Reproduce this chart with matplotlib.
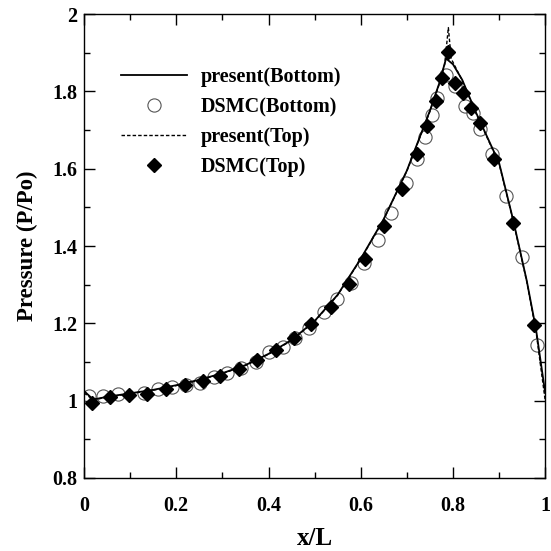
import matplotlib
matplotlib.use("Agg")
import matplotlib.pyplot as plt
from matplotlib.ticker import MultipleLocator

# present solution, bottom wall
x_bot = [0.0, 0.02, 0.05, 0.1, 0.15, 0.2, 0.25, 0.3, 0.35, 0.4, 0.45, 0.5,
         0.55, 0.6, 0.65, 0.7, 0.75, 0.77, 0.785, 0.8, 0.82, 0.85, 0.9,
         0.93, 0.96, 0.98, 1.0]
p_bot = [1.025, 1.003, 1.01, 1.019, 1.028, 1.04, 1.054, 1.071, 1.092, 1.121,
         1.157, 1.206, 1.274, 1.367, 1.47, 1.595, 1.75, 1.82, 1.885, 1.87,
         1.83, 1.745, 1.615, 1.47, 1.31, 1.185, 1.02]

# present solution, top wall
x_top = [0.0, 0.02, 0.05, 0.1, 0.15, 0.2, 0.25, 0.3, 0.35, 0.4, 0.45, 0.5,
         0.55, 0.6, 0.65, 0.7, 0.75, 0.77, 0.782, 0.79, 0.796, 0.82, 0.85,
         0.9, 0.93, 0.96, 0.98, 1.0]
p_top = [1.02, 1.002, 1.009, 1.018, 1.027, 1.039, 1.053, 1.07, 1.091, 1.12,
         1.156, 1.205, 1.273, 1.366, 1.469, 1.594, 1.748, 1.818, 1.87, 1.965,
         1.885, 1.828, 1.743, 1.613, 1.468, 1.308, 1.18, 1.0]

# DSMC, bottom wall
x_dsmc_bot = [0.011, 0.042, 0.074, 0.131, 0.16, 0.19, 0.221, 0.252, 0.282,
              0.311, 0.34, 0.372, 0.402, 0.431, 0.458, 0.487, 0.52, 0.548,
              0.579, 0.606, 0.637, 0.666, 0.699, 0.721, 0.739, 0.754, 0.766,
              0.785, 0.805, 0.827, 0.843, 0.859, 0.885, 0.916, 0.95, 0.983]
p_dsmc_bot = [1.011, 1.011, 1.017, 1.019, 1.029, 1.036, 1.041, 1.045, 1.06,
              1.072, 1.084, 1.101, 1.127, 1.14, 1.161, 1.187, 1.229, 1.262,
              1.305, 1.357, 1.416, 1.485, 1.562, 1.626, 1.683, 1.74, 1.783,
              1.842, 1.814, 1.763, 1.743, 1.702, 1.639, 1.529, 1.371, 1.144]

# DSMC, top wall
x_dsmc_top = [0.017, 0.056, 0.098, 0.136, 0.177, 0.218, 0.257, 0.295, 0.336,
              0.375, 0.416, 0.455, 0.493, 0.535, 0.575, 0.609, 0.651, 0.69,
              0.723, 0.744, 0.764, 0.777, 0.789, 0.805, 0.821, 0.839, 0.859,
              0.888, 0.93, 0.975]
p_dsmc_top = [0.995, 1.01, 1.014, 1.018, 1.029, 1.041, 1.05, 1.065, 1.082,
              1.105, 1.13, 1.161, 1.198, 1.242, 1.302, 1.366, 1.452, 1.548,
              1.637, 1.71, 1.775, 1.834, 1.901, 1.821, 1.795, 1.756, 1.717,
              1.625, 1.46, 1.196]

plt.rcParams["font.family"] = ["Liberation Serif", "DejaVu Serif"]
plt.rcParams["font.weight"] = "bold"

fig = plt.figure(figsize=(5.51, 5.51), dpi=100)
ax = fig.add_axes([0.1525, 0.1325, 0.837, 0.842])

ax.plot(x_bot, p_bot, color="black", lw=1.3, label="present(Bottom)", zorder=3)
ax.plot(x_dsmc_bot, p_dsmc_bot, ls="none", marker="o", ms=9.5, mfc="none",
        mec="#555555", mew=0.8, label="DSMC(Bottom)", zorder=2)
ax.plot(x_top, p_top, color="black", lw=1.0, ls=(0, (2.5, 1.5)),
        label="present(Top)", zorder=3)
ax.plot(x_dsmc_top, p_dsmc_top, ls="none", marker="D", ms=7.5, color="black",
        label="DSMC(Top)", zorder=4)

ax.set_xlim(0, 1)
ax.set_ylim(0.8, 2)
ax.xaxis.set_major_locator(MultipleLocator(0.2))
ax.xaxis.set_minor_locator(MultipleLocator(0.1))
ax.yaxis.set_major_locator(MultipleLocator(0.2))
ax.yaxis.set_minor_locator(MultipleLocator(0.1))
ax.xaxis.set_major_formatter(plt.FuncFormatter(lambda v, p: f"{v:g}"))
ax.yaxis.set_major_formatter(plt.FuncFormatter(lambda v, p: f"{v:g}"))

ax.tick_params(which="both", direction="in", top=True, right=True, width=1.0)
ax.tick_params(which="major", length=8)
ax.tick_params(which="minor", length=4.5)
ax.tick_params(axis="x", which="major", pad=13, labelsize=14.5)
ax.tick_params(axis="y", which="major", pad=5, labelsize=14.5)
for s in ax.spines.values():
    s.set_linewidth(1.0)

ax.set_xlabel("x/L", fontsize=18, fontweight="bold", labelpad=8)
ax.set_ylabel("Pressure (P/Po)", fontsize=16.5, fontweight="bold", labelpad=10)

ax.legend(loc="upper left", bbox_to_anchor=(0.04, 0.925), frameon=False,
          handlelength=3.3, handletextpad=0.7, labelspacing=0.5,
          prop={"weight": "bold", "size": 14.5})

fig.savefig("out.png", dpi=100)
